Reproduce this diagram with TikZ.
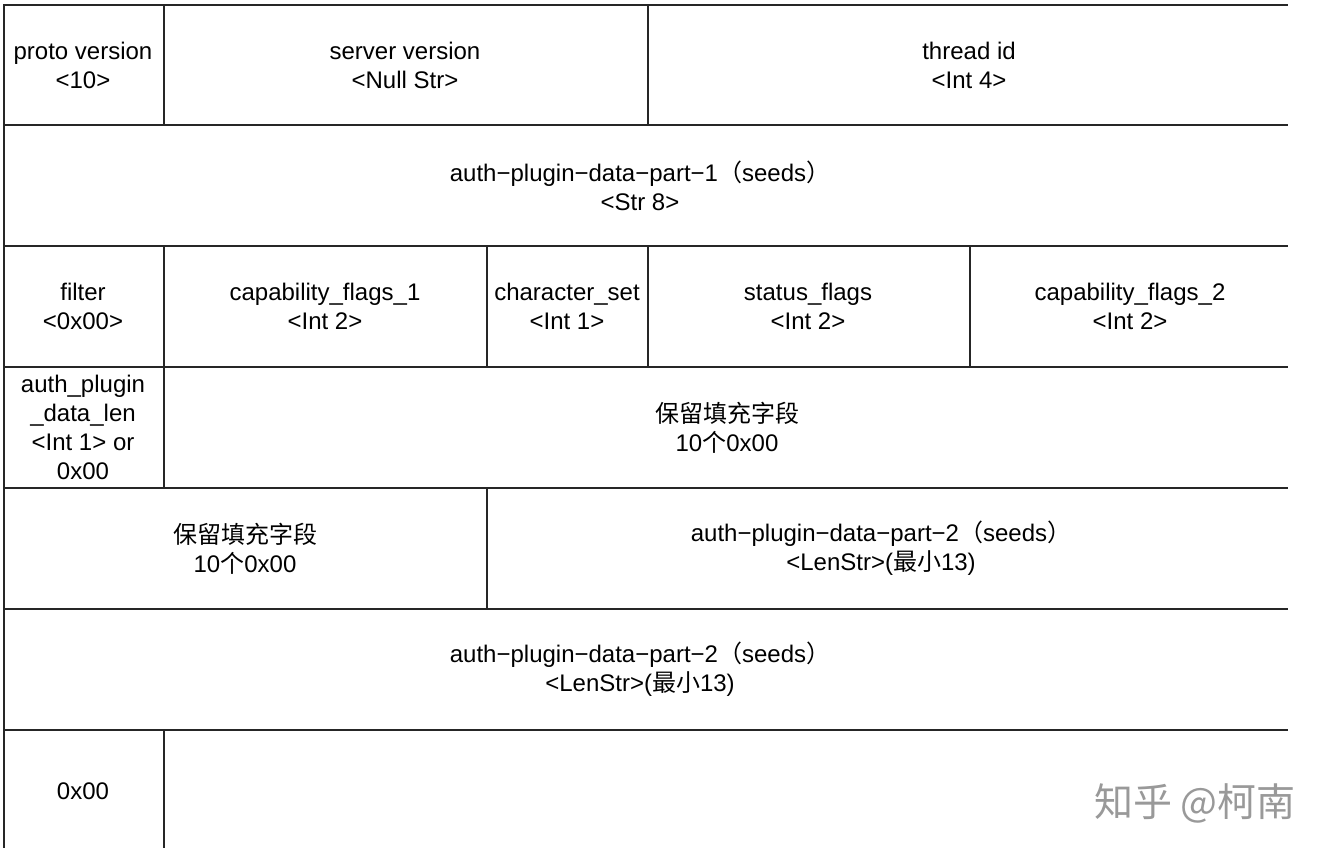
\documentclass[tikz,border=0pt]{standalone}
\usepackage{fontspec}
\setmainfont{Liberation Sans}
\newfontfamily\cjk{Noto Sans CJK SC}
\usepackage{tikz}
\usepackage{xcolor}

\begin{document}
\begin{tikzpicture}[x=1pt, y=-1pt,
    field/.style={align=center, font=\fontsize{24}{29}\selectfont, inner sep=0pt},
    grid/.style={line width=2pt, black!85}]

    \useasboundingbox (0, 0) rectangle (1332, 860);

    % Row boundaries
    \foreach \y in {5, 125, 246, 367, 488, 609, 730} {
        \draw[grid] (4, \y) -- (1288, \y);
    }

    % Left edge
    \draw[grid] (4, 4) -- (4, 848);

    % Column separators
    \foreach \x/\ya/\yb in {164/5/125, 648/5/125,
                            164/246/367, 487/246/367, 648/246/367, 970/246/367,
                            164/367/488, 487/488/609, 164/730/848} {
        \draw[grid] (\x, \ya) -- (\x, \yb);
    }

    % Row 1
    \node[field] (proto) at (83, 65) {proto version\\<10>};
    \node[field] (server) at (405, 65) {server version\\<Null Str>};
    \node[field] (thread) at (969, 65) {thread id\\<Int 4>};

    % Row 2
    \node[field] (seed1) at (640, 185.5) {auth−plugin−data−part−1{\cjk（}seeds{\cjk）}\\<Str 8>};

    % Row 3
    \node[field] (filter) at (83, 306.5) {filter\\<0x00>};
    \node[field] (cap1) at (325, 306.5) {capability\_flags\_1\\<Int 2>};
    \node[field] (charset) at (567, 306.5) {character\_set\\<Int 1>};
    \node[field] (status) at (808, 306.5) {status\_flags\\<Int 2>};
    \node[field] (cap2) at (1130, 306.5) {capability\_flags\_2\\<Int 2>};

    % Row 4
    \node[field] (authlen) at (83, 427.5) {auth\_plugin\\\_data\_len\\<Int 1> or\\0x00};
    \node[field] (reserved1) at (727, 427.5) {{\cjk 保留填充字段}\\10{\cjk 个}0x00};

    % Row 5
    \node[field] (reserved2) at (245, 548.5) {{\cjk 保留填充字段}\\10{\cjk 个}0x00};
    \node[field] (seed2) at (881, 548.5) {auth−plugin−data−part−2{\cjk（}seeds{\cjk）}\\<LenStr>({\cjk 最小}13)};

    % Row 6
    \node[field] (seed2b) at (640, 669.5) {auth−plugin−data−part−2{\cjk（}seeds{\cjk）}\\<LenStr>({\cjk 最小}13)};

    % Row 7
    \node[field] (term) at (83, 791) {0x00};

    % Watermark
    \node[text=black!40, font=\cjk\fontsize{39}{42}\selectfont] (mark) at (1195, 803) {知乎 @柯南};

\end{tikzpicture}
\end{document}
